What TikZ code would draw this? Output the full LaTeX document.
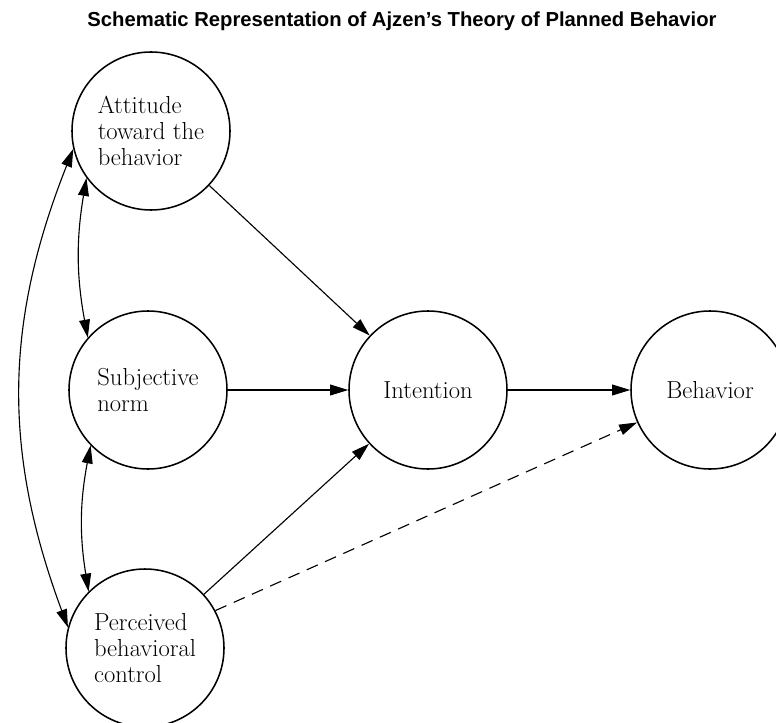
\documentclass[tikz,border=0pt]{standalone}
\usepackage{fontspec}
\newfontfamily\headfont{Liberation Sans}
\usetikzlibrary{arrows.meta}
\tikzset{factor/.style = {circle, draw, line width=1.1pt, minimum size=3.95cm, inner sep=0pt,
                          align=left, font=\fontsize{17.5}{18.5}\selectfont},
         link/.style = {line width=0.8pt, -{Triangle[length=4.5mm,width=2.7mm]}},
         both/.style = {line width=0.8pt, {Triangle[length=4.5mm,width=2.7mm]}-{Triangle[length=4.5mm,width=2.7mm]}}}

\begin{document}
\begin{tikzpicture}
\useasboundingbox (0,0) rectangle (19.4,-18.075);
\node (title) at (10.05,-0.53) {\headfont\bfseries\fontsize{14.4}{16}\selectfont Schematic Representation of Ajzen’s Theory of Planned Behavior};
\node[factor] (att) at (3.775,-3.275) {Attitude\\toward the\\behavior};
\node[factor] (subj) at (3.7,-9.75) {Subjective\\norm};
\node[factor] (perc) at (3.625,-16.2) {Perceived\\behavioral\\control};
\node[factor] (int) at (10.7,-9.75) {Intention};
\node[factor] (beh) at (17.75,-9.75) {Behavior};
\draw [link] (att) -- (int);
\draw [link] (subj) -- (int);
\draw [link] (perc) -- (int);
\draw [link] (int) -- (beh);
\draw [link, dash pattern=on 0.3cm off 0.2cm] (perc.28) -- (beh.204);
\draw [both] (att.216) to[bend right=10] (subj.139);
\draw [both] (subj.224) to[bend right=10] (perc.135);
\draw [both] (att.193) to[bend right=21] (perc.165);
\end{tikzpicture}
\end{document}
